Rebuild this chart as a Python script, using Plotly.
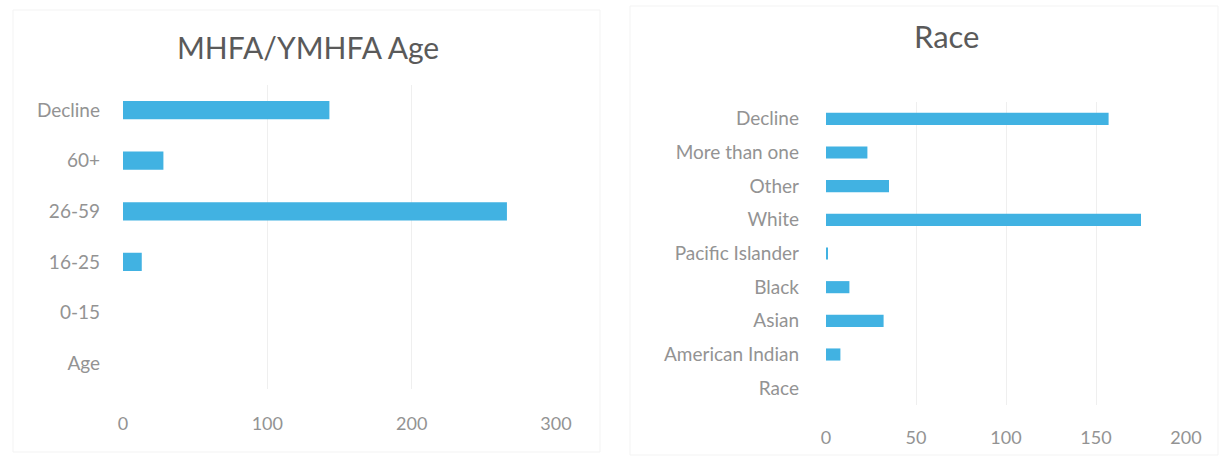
import plotly.graph_objects as go

# Age breakdown
age_categories = ["Age", "0-15", "16-25", "26-59", "60+", "Decline"]
age_counts = [0, 0, 13, 266, 28, 143]

# Race breakdown
race_categories = ["Race", "American Indian", "Asian", "Black", "Pacific Islander",
                   "White", "Other", "More than one", "Decline"]
race_counts = [0, 8, 32, 13, 1, 175, 35, 23, 157]

age_ticks = [0, 100, 200, 300]
race_ticks = [0, 50, 100, 150, 200]

W, H = 1221, 458
BAR = "#41b2e2"
TICK = "#939393"
TITLE = "#5a5a5a"
GRID = "#efefef"
FONT = "Lato"

fig = go.Figure()
fig.add_trace(go.Bar(y=age_categories, x=age_counts, orientation="h",
                     marker=dict(color=BAR, line=dict(width=0)),
                     xaxis="x", yaxis="y", width=0.36, showlegend=False))
fig.add_trace(go.Bar(y=race_categories, x=race_counts, orientation="h",
                     marker=dict(color=BAR, line=dict(width=0)),
                     xaxis="x2", yaxis="y2", width=0.36, showlegend=False))

def px_x(p):
    return p / W

def px_y(p):
    return 1 - p / H

axis_common = dict(showline=False, zeroline=False, ticks="", automargin=False)
xfont = dict(family=FONT, size=18, color=TICK)
yfont = dict(family=FONT, size=19, color=TICK)

fig.update_layout(
    width=W, height=H,
    margin=dict(l=0, r=0, t=0, b=0),
    paper_bgcolor="white", plot_bgcolor="white",
    font=dict(family=FONT),
    xaxis=dict(domain=[px_x(123), px_x(556)], range=[0, 300], anchor="y",
               tickvals=age_ticks, showgrid=True, gridcolor=GRID,
               ticklabelstandoff=22, tickfont=xfont, **axis_common),
    yaxis=dict(domain=[px_y(388.5), px_y(84.7)], anchor="x",
               categoryorder="array", categoryarray=age_categories,
               showgrid=False, ticklabelstandoff=22, tickfont=yfont, **axis_common),
    xaxis2=dict(domain=[px_x(826), px_x(1186)], range=[0, 200], anchor="y2",
                tickvals=race_ticks, showgrid=True, gridcolor=GRID,
                ticklabelstandoff=20, tickfont=xfont, **axis_common),
    yaxis2=dict(domain=[px_y(405), px_y(102)], anchor="x2",
                categoryorder="array", categoryarray=race_categories,
                showgrid=False, ticklabelstandoff=26, tickfont=yfont, **axis_common),
    annotations=[
        dict(text="MHFA/YMHFA Age", x=px_x(308), y=px_y(47), xref="paper", yref="paper",
             showarrow=False, xanchor="center", yanchor="middle",
             font=dict(family=FONT, size=30, color=TITLE)),
        dict(text="Race", x=px_x(947), y=px_y(36), xref="paper", yref="paper",
             showarrow=False, xanchor="center", yanchor="middle",
             font=dict(family=FONT, size=31, color=TITLE)),
    ],
    shapes=[
        dict(type="rect", xref="paper", yref="paper",
             x0=px_x(13), x1=px_x(600), y0=px_y(452), y1=px_y(10),
             line=dict(color="#f3f3f3", width=1)),
        dict(type="rect", xref="paper", yref="paper",
             x0=px_x(630), x1=px_x(1218), y0=px_y(455), y1=px_y(6),
             line=dict(color="#f3f3f3", width=1)),
    ],
    bargap=0.64,
)

fig.write_html("out.html")
